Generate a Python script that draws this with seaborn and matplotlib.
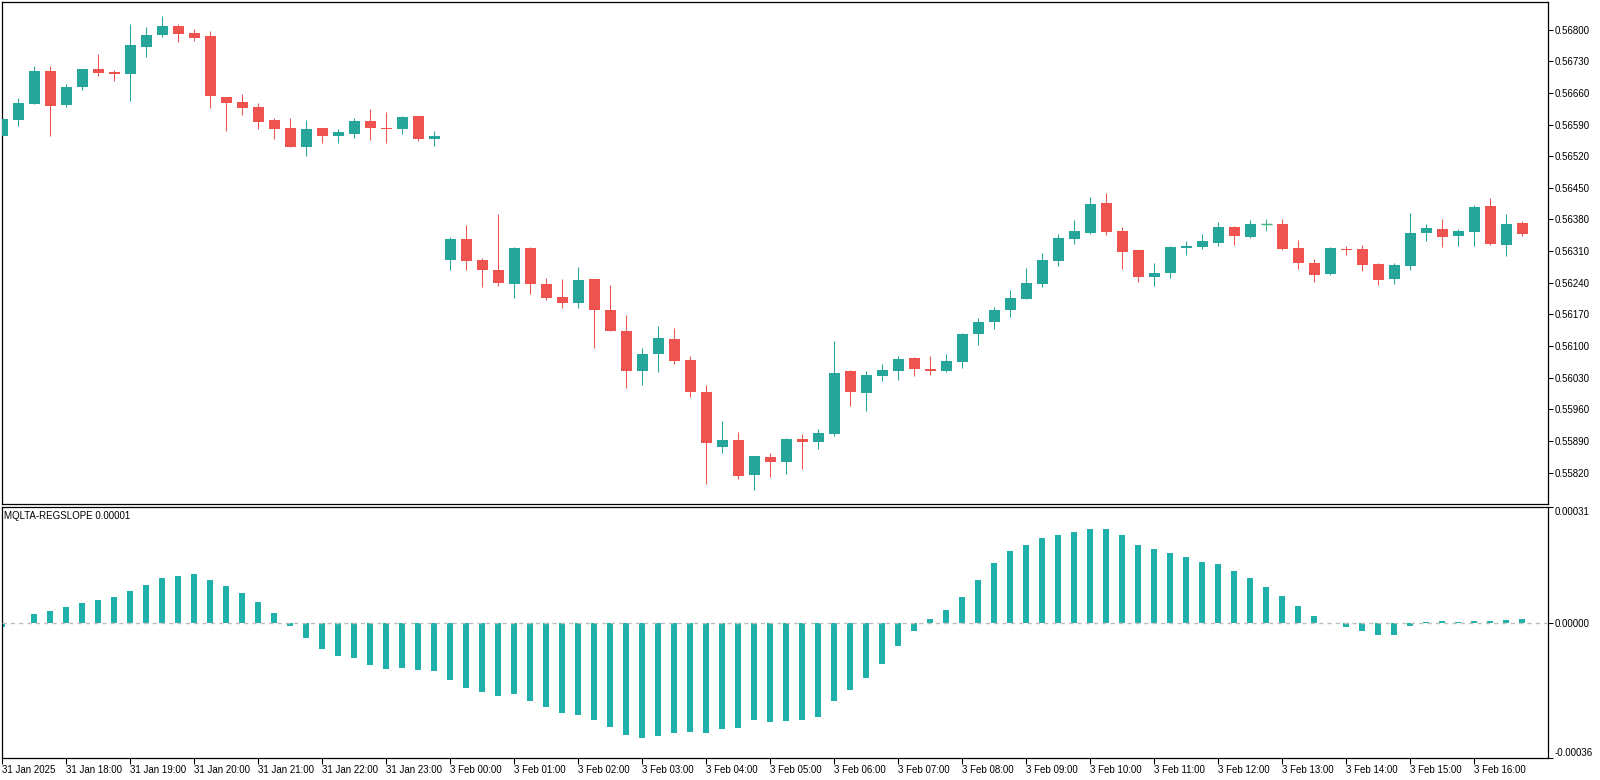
import numpy as np
import pandas as pd
import matplotlib
matplotlib.use("Agg")
import matplotlib.pyplot as plt
import seaborn as sns

# ---------------- data (15-minute bars, 31 Jan 17:00 -> 3 Feb 16:45) ----------------
hour_labels = ["31 Jan 2025", "31 Jan 18:00", "31 Jan 19:00", "31 Jan 20:00", "31 Jan 21:00",
               "31 Jan 22:00", "31 Jan 23:00", "3 Feb 00:00", "3 Feb 01:00", "3 Feb 02:00",
               "3 Feb 03:00", "3 Feb 04:00", "3 Feb 05:00", "3 Feb 06:00", "3 Feb 07:00",
               "3 Feb 08:00", "3 Feb 09:00", "3 Feb 10:00", "3 Feb 11:00", "3 Feb 12:00",
               "3 Feb 13:00", "3 Feb 14:00", "3 Feb 15:00", "3 Feb 16:00"]
bars_per_hour = 4

opens = [
    0.56565, 0.56601, 0.56636, 0.56708, 0.56634, 0.56674, 0.56713, 0.56707, 0.56702, 0.56762,
    0.56787, 0.56808, 0.56793, 0.56786, 0.56651, 0.56640, 0.56629, 0.56600, 0.56582, 0.56541,
    0.56582, 0.56565, 0.56570, 0.56598, 0.56582, 0.56579, 0.56609, 0.56559,
    0.56291, 0.56337, 0.56290, 0.56268, 0.56238, 0.56317, 0.56237, 0.56208, 0.56196, 0.56248,
    0.56180, 0.56133, 0.56045, 0.56083, 0.56115, 0.56069, 0.55998, 0.55877, 0.55892, 0.55815,
    0.55854, 0.55844, 0.55894, 0.55888, 0.55905, 0.56045, 0.55996, 0.56034, 0.56045, 0.56073,
    0.56049, 0.56045, 0.56065, 0.56127, 0.56153, 0.56180, 0.56204, 0.56237, 0.56288, 0.56337,
    0.56350, 0.56416, 0.56354, 0.56312, 0.56253, 0.56261, 0.56317, 0.56319, 0.56328, 0.56363,
    0.56341, 0.56370, 0.56370, 0.56317, 0.56284, 0.56259, 0.56315, 0.56315, 0.56281, 0.56248,
    0.56277, 0.56350, 0.56359, 0.56343, 0.56352, 0.56410, 0.56323, 0.56371]

highs = [
    0.56604, 0.56649, 0.56720, 0.56720, 0.56680, 0.56713, 0.56746, 0.56711, 0.56812, 0.56806,
    0.56830, 0.56812, 0.56801, 0.56797, 0.56651, 0.56658, 0.56638, 0.56604, 0.56604, 0.56600,
    0.56582, 0.56580, 0.56604, 0.56624, 0.56618, 0.56609, 0.56609, 0.56576,
    0.56341, 0.56368, 0.56295, 0.56392, 0.56319, 0.56319, 0.56250, 0.56248, 0.56275, 0.56248,
    0.56235, 0.56169, 0.56096, 0.56144, 0.56140, 0.56078, 0.56014, 0.55934, 0.55910, 0.55857,
    0.55863, 0.55896, 0.55905, 0.55916, 0.56111, 0.56047, 0.56045, 0.56060, 0.56078, 0.56076,
    0.56078, 0.56082, 0.56129, 0.56162, 0.56186, 0.56224, 0.56273, 0.56306, 0.56348, 0.56379,
    0.56430, 0.56438, 0.56363, 0.56312, 0.56284, 0.56321, 0.56332, 0.56348, 0.56374, 0.56365,
    0.56379, 0.56381, 0.56381, 0.56334, 0.56292, 0.56319, 0.56321, 0.56323, 0.56284, 0.56284,
    0.56394, 0.56370, 0.56381, 0.56359, 0.56412, 0.56427, 0.56392, 0.56377]

lows = [
    0.56563, 0.56587, 0.56636, 0.56565, 0.56629, 0.56667, 0.56698, 0.56687, 0.56643, 0.56740,
    0.56784, 0.56773, 0.56775, 0.56627, 0.56576, 0.56612, 0.56579, 0.56559, 0.56541, 0.56521,
    0.56548, 0.56548, 0.56561, 0.56556, 0.56548, 0.56570, 0.56554, 0.56543,
    0.56269, 0.56267, 0.56231, 0.56233, 0.56207, 0.56216, 0.56202, 0.56185, 0.56185, 0.56096,
    0.56132, 0.56008, 0.56014, 0.56043, 0.56059, 0.55986, 0.55795, 0.55864, 0.55806, 0.55782,
    0.55809, 0.55817, 0.55828, 0.55873, 0.55901, 0.55967, 0.55956, 0.56023, 0.56025, 0.56034,
    0.56036, 0.56042, 0.56051, 0.56102, 0.56138, 0.56164, 0.56204, 0.56231, 0.56277, 0.56326,
    0.56348, 0.56346, 0.56270, 0.56242, 0.56233, 0.56250, 0.56301, 0.56315, 0.56321, 0.56323,
    0.56339, 0.56354, 0.56312, 0.56270, 0.56242, 0.56257, 0.56301, 0.56266, 0.56235, 0.56237,
    0.56268, 0.56332, 0.56319, 0.56321, 0.56321, 0.56323, 0.56299, 0.56343]

closes = [
    0.56602, 0.56638, 0.56708, 0.56632, 0.56673, 0.56713, 0.56705, 0.56702, 0.56766, 0.56788,
    0.56808, 0.56791, 0.56782, 0.56652, 0.56638, 0.56627, 0.56596, 0.56581, 0.56541, 0.56580,
    0.56565, 0.56573, 0.56598, 0.56583, 0.56579, 0.56607, 0.56559, 0.56565,
    0.56337, 0.56289, 0.56267, 0.56240, 0.56317, 0.56236, 0.56207, 0.56196, 0.56246, 0.56180,
    0.56132, 0.56045, 0.56082, 0.56118, 0.56067, 0.55999, 0.55886, 0.55892, 0.55813, 0.55857,
    0.55844, 0.55894, 0.55888, 0.55907, 0.56040, 0.55998, 0.56036, 0.56047, 0.56071, 0.56049,
    0.56045, 0.56067, 0.56127, 0.56153, 0.56180, 0.56206, 0.56239, 0.56290, 0.56339, 0.56354,
    0.56414, 0.56352, 0.56308, 0.56253, 0.56261, 0.56319, 0.56321, 0.56332, 0.56363, 0.56343,
    0.56370, 0.56370, 0.56315, 0.56284, 0.56257, 0.56317, 0.56312, 0.56279, 0.56246, 0.56279,
    0.56350, 0.56361, 0.56341, 0.56354, 0.56408, 0.56326, 0.56370, 0.56348]

regslope = [
    -0.0000116, 0.0000010, 0.0000250, 0.0000331, 0.0000438, 0.0000545, 0.0000625, 0.0000706, 0.0000867, 0.0001027,
    0.0001188, 0.0001242, 0.0001295, 0.0001161, 0.0001000, 0.0000813, 0.0000572, 0.0000277, -0.0000089, -0.0000384,
    -0.0000679, -0.0000867, -0.0000920, -0.0001108, -0.0001215, -0.0001188, -0.0001242, -0.0001268, -0.0001510, -0.0001724,
    -0.0001831, -0.0001938, -0.0001885, -0.0002072, -0.0002233, -0.0002394, -0.0002448, -0.0002582, -0.0002769, -0.0002984,
    -0.0003064, -0.0003010, -0.0002930, -0.0002903, -0.0002930, -0.0002823, -0.0002796, -0.0002582, -0.0002635, -0.0002608,
    -0.0002582, -0.0002501, -0.0002072, -0.0001778, -0.0001456, -0.0001081, -0.0000599, -0.0000197, 0.0000116, 0.0000357,
    0.0000706, 0.0001161, 0.0001590, 0.0001912, 0.0002072, 0.0002260, 0.0002340, 0.0002421, 0.0002501, 0.0002501,
    0.0002340, 0.0002072, 0.0001965, 0.0001858, 0.0001751, 0.0001617, 0.0001563, 0.0001376, 0.0001188, 0.0000974,
    0.0000733, 0.0000465, 0.0000197, 0.0000010, -0.0000116, -0.0000223, -0.0000304, -0.0000304, -0.0000089, 0.0000027,
    0.0000063, 0.0000036, 0.0000063, 0.0000063, 0.0000089, 0.0000116]

price_ticks = [0.56800, 0.56730, 0.56660, 0.56590, 0.56520, 0.56450, 0.56380, 0.56310,
               0.56240, 0.56170, 0.56100, 0.56030, 0.55960, 0.55890, 0.55820]
ind_ticks = [0.00031, 0.00000, -0.00036]
indicator_name = "MQLTA-REGSLOPE 0.00001"

# ---------------- styling ----------------
UP = "#26A69A"
DOWN = "#EF5350"
DOJI = "#43B581"
IND = "#20B2AA"

sns.set_theme(style="white")
plt.rcParams["font.family"] = ["Liberation Sans", "DejaVu Sans"]
plt.rcParams["font.size"] = 7

W, H = 1600, 780
fig = plt.figure(figsize=(W / 100, H / 100), dpi=100)
fig.patch.set_facecolor("white")

def fx(px):
    return px / W

def fy(py):
    return 1 - py / H

left_px, right_px = 2.3, 1547.5
top1, bot1 = 2.3, 504.3
top2, bot2 = 506.7, 758.3

ax1 = fig.add_axes([fx(left_px), fy(bot1), fx(right_px - left_px), (bot1 - top1) / H])
ax2 = fig.add_axes([fx(left_px), fy(bot2), fx(right_px - left_px), (bot2 - top2) / H])

n = len(opens)
idx = np.arange(n)
o = np.array(opens); h = np.array(highs); l = np.array(lows); c = np.array(closes)

px_per_bar = 16.0
x0 = (left_px - 2.0) / px_per_bar
x1 = (right_px - 2.0) / px_per_bar

body_w = 11.0 / px_per_bar
wick_lw = 0.75

# ---------------- candles ----------------
for i in range(n):
    if abs(c[i] - o[i]) < 1e-6 and i == 79:
        col = DOJI
    elif c[i] >= o[i]:
        col = UP
    else:
        col = DOWN
    ax1.vlines(i, l[i], h[i], color=col, lw=wick_lw, zorder=2)
    if abs(c[i] - o[i]) < 1e-6:
        ax1.hlines(o[i], i - body_w / 2, i + body_w / 2, color=col, lw=wick_lw * 1.4, zorder=3)
    else:
        ax1.bar(i, c[i] - o[i], bottom=o[i], width=body_w, color=col, linewidth=0, zorder=3)

ax1.set_xlim(x0, x1)
# price scale from tick positions: 0.56800 at y=29.6px, 0.55820 at y=472.5px
ppx = (0.56800 - 0.55820) / (472.5 - 29.6)
ax1.set_ylim(0.56800 - (bot1 - 29.6) * ppx, 0.56800 + (29.6 - top1) * ppx)
ax1.yaxis.tick_right()
ax1.set_yticks(price_ticks)
ax1.set_yticklabels([f"{v:.5f}" for v in price_ticks])
ax1.tick_params(axis="y", direction="out", length=3.6, width=0.75, pad=1.5,
                colors="black", labelsize=7, right=True, left=False)
ax1.tick_params(axis="x", bottom=False, labelbottom=False)
ax1.set_xlabel(""); ax1.set_ylabel("")

# ---------------- indicator ----------------
df = pd.DataFrame({"bar": idx, "slope": regslope})
sns.barplot(data=df, x="bar", y="slope", native_scale=True, width=6.0 / px_per_bar,
            color=IND, saturation=1, errorbar=None, linewidth=0, ax=ax2, zorder=2)
ax2.axhline(0, color="#BDBDBD", lw=1.0, ls=(0, (3, 3)), zorder=3)
ax2.set_xlim(x0, x1)
ax2.set_ylim(-0.00036, 0.00031)
ax2.yaxis.tick_right()
ax2.set_yticks(ind_ticks)
ax2.set_yticklabels([f"{v:.5f}" for v in ind_ticks])
ax2.tick_params(axis="y", direction="out", length=3.6, width=0.75, pad=1.5,
                colors="black", labelsize=7, right=True, left=False)
ylabs = ax2.get_yticklabels()
ylabs[0].set_va("top")
ylabs[2].set_va("bottom")

tick_pos = [k * bars_per_hour for k in range(len(hour_labels))]
ax2.set_xticks(tick_pos)
ax2.set_xticklabels(hour_labels, ha="left")
ax2.tick_params(axis="x", direction="out", length=4.3, width=0.75, pad=0.5,
                colors="black", labelsize=7, bottom=True)
ax2.set_xlabel(""); ax2.set_ylabel("")

for ax in (ax1, ax2):
    ax.set_facecolor("white")
    ax.grid(False)
    for s in ax.spines.values():
        s.set_visible(True)
        s.set_color("black")
        s.set_linewidth(0.9)

fig.text(fx(4), fy(516), indicator_name, fontsize=7, va="center", ha="left", color="black")

fig.savefig("out.png", dpi=100, facecolor="white")
